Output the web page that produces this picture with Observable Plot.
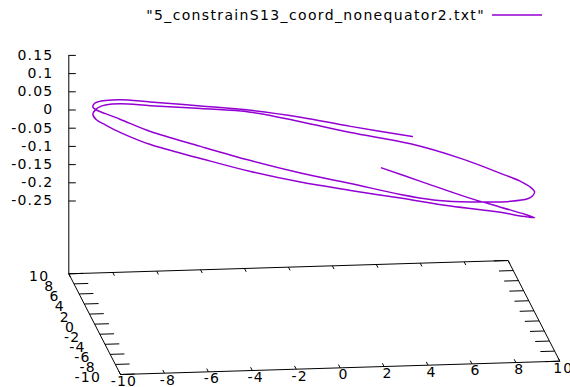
<!DOCTYPE html>
<html><head><meta charset="utf-8">
<script src="https://cdn.jsdelivr.net/npm/d3@7"></script>
<script src="https://cdn.jsdelivr.net/npm/@observablehq/plot@0.6"></script>
<style>
body{margin:0;background:#fff;font-family:"DejaVu Sans",sans-serif;}
#legend{position:relative;width:570px;height:30px;overflow:hidden}
#legend .lab{position:absolute;right:85px;top:6px;font-size:14px;letter-spacing:1.35px;color:#000;white-space:nowrap;line-height:18px}
#legend svg{position:absolute;left:0;top:0}
#chart svg{display:block}
</style></head><body>
<div id="legend"></div>
<div id="chart"></div>
<script>
// ---- data ----
const seriesName = "\"5_constrainS13_coord_nonequator2.txt\"";
const xTicks = [-10, -8, -6, -4, -2, 0, 2, 4, 6, 8, 10];
const yTicks = [-10, -8, -6, -4, -2, 0, 2, 4, 6, 8, 10];
const zTicks = [-0.25, -0.2, -0.15, -0.1, -0.05, 0, 0.05, 0.1, 0.15];
const xDomain = [-10, 10];
const yDomain = [-10, 10];
const zDomain = [-0.25, 0.15];
// curve, as projected onto the picture (x along the x axis, z as read on the z axis)
const curveX = [3.06,4.84,6.97,8.48,9.62,10.03,9.39,8.48,6.20,3.92,1.65,-0.63,-2.90,-5.18,-7.46,-8.82,-9.51,-9.92,-10.08,-9.96,-9.73,-9.51,-8.82,-7.46,-5.18,-2.90,-0.63,1.65,4.38,6.66,8.48,9.39,9.84,10.03,9.93,9.71,8.93,7.89,6.66,5.43,3.92,1.65,-0.63,-2.90,-5.18,-7.46,-8.82,-9.51,-9.92,-10.08,-10.01,-9.82,-9.51,-8.82,-7.46,-5.18,-2.90,-0.63,1.65,4.46];
const curveZ = [-0.159,-0.196,-0.240,-0.267,-0.287,-0.296,-0.291,-0.281,-0.264,-0.242,-0.221,-0.198,-0.169,-0.133,-0.095,-0.062,-0.041,-0.027,-0.012,0.001,0.010,0.014,0.017,0.012,0.004,-0.006,-0.032,-0.062,-0.093,-0.133,-0.174,-0.196,-0.212,-0.225,-0.236,-0.244,-0.251,-0.253,-0.252,-0.247,-0.232,-0.202,-0.173,-0.139,-0.100,-0.059,-0.026,-0.010,0.000,0.008,0.018,0.023,0.026,0.028,0.022,0.011,-0.001,-0.020,-0.045,-0.073];

// ---- view (projection) ----
const purple = "#9400d3";
const ticslevel = 0.5;
const zBase = zDomain[0] - ticslevel * (zDomain[1] - zDomain[0]); // base plane level
const XPX = 21.965, XDY = -0.665, YDX = -2.585, YDY = -5.035, ZPX = 364;
// projected frame: u along horizontal (x units), v along vertical (z units, as read at the back-left z axis)
function P(x, y, z) {
  const u = x + YDX * y / XPX;
  const v = z - (XDY * (x - xDomain[0]) + YDY * (y - yDomain[1])) / ZPX;
  return {u, v};
}
const uAxis = P(xDomain[0], yDomain[1], 0).u; // back-left corner

const corners = [[-10,-10],[10,-10],[10,10],[-10,10],[-10,-10]].map(([x,y]) => P(x, y, zBase));
const zAxisLine = [P(-10, 10, zBase), P(-10, 10, zDomain[1])];
const tl = 0.65;
const tickSegs = [];
for (const x of xTicks) {
  const a = P(x, -10, zBase), b = P(x, -10 + tl, zBase);
  tickSegs.push({u1: a.u, v1: a.v, u2: b.u, v2: b.v});
  const c = P(x, 10, zBase), d = P(x, 10 - tl, zBase);
  tickSegs.push({u1: c.u, v1: c.v, u2: d.u, v2: d.v});
}
for (const y of yTicks) {
  const a = P(-10, y, zBase), b = P(-10 + tl, y, zBase);
  tickSegs.push({u1: a.u, v1: a.v, u2: b.u, v2: b.v});
  const c = P(10, y, zBase), d = P(10 - tl, y, zBase);
  tickSegs.push({u1: c.u, v1: c.v, u2: d.u, v2: d.v});
}
const zTickLen = 7 / XPX;
for (const z of zTicks) tickSegs.push({u1: uAxis, v1: z, u2: uAxis + zTickLen, v2: z});

const xLab = xTicks.map(x => ({...P(x, -10, zBase), t: String(x)}));
const yLab = yTicks.map(y => ({...P(-10, y, zBase), t: String(y)}));
const zLab = zTicks.map(z => ({u: uAxis, v: z, t: String(z)}));
const curve = curveX.map((x, i) => ({u: x, v: curveZ[i]}));

const topPad = 30;
const chart = Plot.plot({
  width: 570, height: 357,
  margin: 0,
  style: {fontFamily: "DejaVu Sans", fontSize: "14px", letterSpacing: "1.2px", background: "#fff", overflow: "hidden"},
  x: {domain: xDomain, range: [94.15, 533.45], axis: null},
  y: {domain: [zBase, zDomain[1]], range: [273.3 - topPad, 54.9 - topPad], axis: null},
  marks: [
    Plot.line(corners, {x: "u", y: "v", stroke: "#000", strokeWidth: 1}),
    Plot.line(zAxisLine, {x: "u", y: "v", stroke: "#000", strokeWidth: 1}),
    Plot.link(tickSegs, {x1: "u1", y1: "v1", x2: "u2", y2: "v2", stroke: "#000", strokeWidth: 1}),
    Plot.text(zLab, {x: "u", y: "v", text: "t", textAnchor: "end", dx: -15.4, fontSize: 14, fill: "#000"}),
    Plot.text(xLab, {x: "u", y: "v", text: "t", dx: 3.5, dy: 7, fontSize: 14, fill: "#000"}),
    Plot.text(yLab, {x: "u", y: "v", text: "t", textAnchor: "end", dx: -19.5, dy: 3, fontSize: 14, fill: "#000"}),
    Plot.line(curve, {x: "u", y: "v", stroke: purple, strokeWidth: 1.5, curve: "catmull-rom"})
  ]
});
document.getElementById("chart").appendChild(chart);

const leg = document.getElementById("legend");
const lab = document.createElement("div");
lab.className = "lab";
lab.textContent = seriesName;
leg.appendChild(lab);
const ns = "http://www.w3.org/2000/svg";
const ls = document.createElementNS(ns, "svg");
ls.setAttribute("width", 570); ls.setAttribute("height", 30);
const ln = document.createElementNS(ns, "line");
ln.setAttribute("x1", 492); ln.setAttribute("x2", 542);
ln.setAttribute("y1", 15); ln.setAttribute("y2", 15);
ln.setAttribute("stroke", purple); ln.setAttribute("stroke-width", 1.5);
ls.appendChild(ln);
leg.appendChild(ls);
</script>
</body></html>
